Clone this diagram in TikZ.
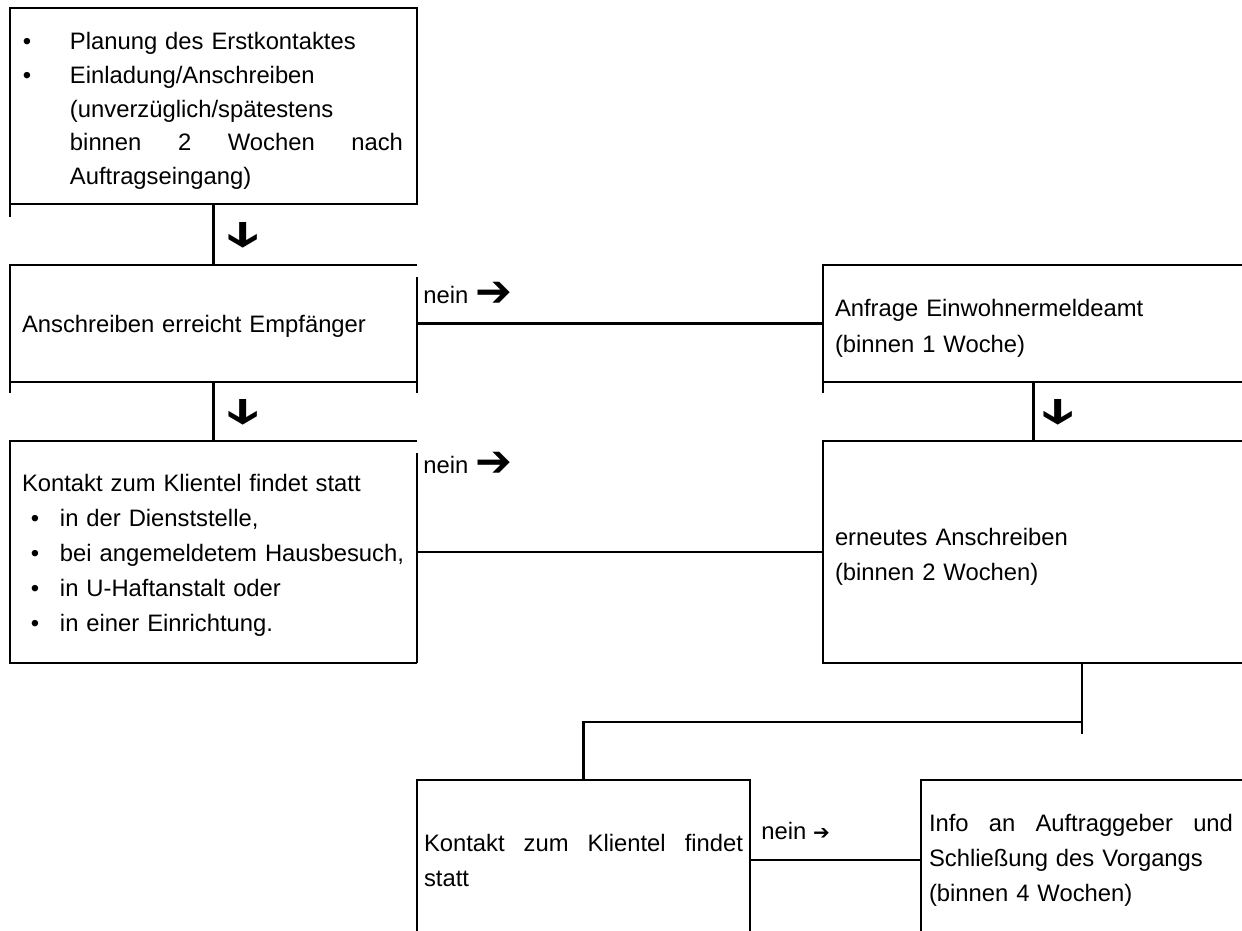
\documentclass[tikz,border=0pt]{standalone}
\usepackage{fontspec}
\setmainfont{Liberation Sans}
\newfontfamily\dejavu{DejaVu Sans}
\usetikzlibrary{calc}
\newcommand{\lift}[1]{\rule{0pt}{#1}}
\tikzset{
  box/.style={rectangle, anchor=north west, inner ysep=0pt, outer sep=0pt, align=left},
  frame/.style={draw, line width=1.2pt},
  line/.style={line width=1.2pt},
  lbl/.style={inner sep=0pt, anchor=base west, font=\fontsize{11.9pt}{14pt}\selectfont},
  darrow/.style={inner sep=0pt, rotate=-90, font=\dejavu\fontsize{17.5pt}{17.5pt}\selectfont},
}
\begin{document}
\begin{tikzpicture}[x=0.5pt,y=-0.5pt]
\useasboundingbox (0,0) rectangle (1242,931);

% boxes
\node[box, frame, minimum width=203.5pt, minimum height=98pt, text width=190.5pt, inner xsep=6.5pt,
      font=\fontsize{11.9pt}{16.85pt}\selectfont] (A) at (10,8)
 {\lift{13.5pt}\makebox[23.5pt][l]{\textbullet}Planung des Erstkontaktes\\
  \makebox[23.5pt][l]{\textbullet}Einladung/Anschreiben\\
  \hspace*{23.5pt}(unverzüglich/spätestens\\
  \hspace*{23.5pt}\hbox to 166.5pt{binnen\hfill 2\hfill Wochen\hfill nach}\\
  \hspace*{23.5pt}Auftragseingang)};

\node[box, minimum width=203.5pt, minimum height=58.5pt, text width=191.5pt, inner xsep=6pt,
      font=\fontsize{11.9pt}{18pt}\selectfont] (B) at (10,265)
 {\lift{11.5pt}Anschreiben erreicht Empfänger};

\node[box, minimum width=203.5pt, minimum height=111pt, text width=191.5pt, inner xsep=6pt,
      font=\fontsize{11.9pt}{17.5pt}\selectfont] (X) at (10,441)
 {\lift{11.5pt}Kontakt zum Klientel findet statt\\
  \hspace*{4.5pt}\makebox[14.5pt][l]{\textbullet}in der Dienststelle,\\
  \hspace*{4.5pt}\makebox[14.5pt][l]{\textbullet}bei angemeldetem Hausbesuch,\\
  \hspace*{4.5pt}\makebox[14.5pt][l]{\textbullet}in U-Haftanstalt oder\\
  \hspace*{4.5pt}\makebox[14.5pt][l]{\textbullet}in einer Einrichtung.};

\node[box, frame, minimum width=210.5pt, minimum height=58.5pt, text width=198.5pt, inner xsep=6pt,
      font=\fontsize{11.9pt}{18pt}\selectfont] (C) at (823,265)
 {\lift{13.5pt}Anfrage Einwohnermeldeamt\\(binnen 1 Woche)};

\node[box, frame, minimum width=210.5pt, minimum height=111pt, text width=198.5pt, inner xsep=6pt,
      font=\fontsize{11.9pt}{17.5pt}\selectfont] (D) at (823,441)
 {\lift{13pt}erneutes Anschreiben\\(binnen 2 Wochen)};

\node[box, frame, minimum width=166.5pt, minimum height=80pt, text width=159.5pt, inner xsep=3.5pt,
      font=\fontsize{11.9pt}{17.5pt}\selectfont] (E) at (417,780)
 {\hbox to 159.5pt{Kontakt\hfill zum\hfill Klientel\hfill findet}\\statt};

\node[box, frame, minimum width=161.5pt, minimum height=80pt, text width=153.5pt, inner xsep=4pt,
      font=\fontsize{11.9pt}{17.5pt}\selectfont] (F) at (921,780)
 {\hbox to 152pt{Info\hfill an\hfill Auftraggeber\hfill und}\\Schließung des Vorgangs\\(binnen 4 Wochen)};

% manual borders of B and X (right edge starts a little below the top)
\draw[line] (B.north east) -- (B.north west) -- (B.south west) -- (B.south east);
\draw[line] ($(B.north east)+(0,12)$) -- ($(B.south east)+(0,11)$);
\draw[line] (X.north east) -- (X.north west) -- (X.south west) -- (X.south east);
\draw[line] ($(X.north east)+(0,12)$) -- (X.south east);

% stubs below boxes
\draw[line] (A.south west) -- ++(0,13);
\draw[line] (B.south west) -- ++(0,11);
\draw[line] (C.south west) -- ++(0,11);

% connectors
\draw[line] (A.south) -- (B.north);
\draw[line] (B.south) -- (X.north);
\draw[line] (C.south) -- (D.north);
\draw[line] (B.east) -- (C.west);
\draw[line] (X.east) -- (D.west);
\coordinate (j) at (1082,722);
\coordinate (jend) at (1082,734);
\draw[line] (D.south -| j) -- (jend);
\draw[line] (j) -| (E.north);
\draw[line] (E.east) -- (F.west);

% arrow marks
\node[darrow] (a1) at ($(A.south)!.5!(B.north)+(27.5,1)$) {\scalebox{1}[1.7]{➔}};
\node[darrow] (a2) at ($(B.south)!.5!(X.north)+(27.5,1)$) {\scalebox{1}[1.7]{➔}};
\node[darrow] (a3) at ($(C.south)!.5!(D.north)+(22,1)$) {\scalebox{1}[1.7]{➔}};

% labels
\node[lbl] (n1) at ($(B.east)+(6,-20)$) {nein \dejavu\fontsize{22pt}{22pt}\selectfont\raisebox{-1.5pt}{➔}};
\node[lbl] (n2) at ($(X.east)+(6,-79)$) {nein \dejavu\fontsize{22pt}{22pt}\selectfont\raisebox{-1.5pt}{➔}};
\node[lbl] (n3) at ($(E.east)+(11,-21)$) {nein \dejavu\fontsize{10pt}{10pt}\selectfont ➔};
\end{tikzpicture}
\end{document}
